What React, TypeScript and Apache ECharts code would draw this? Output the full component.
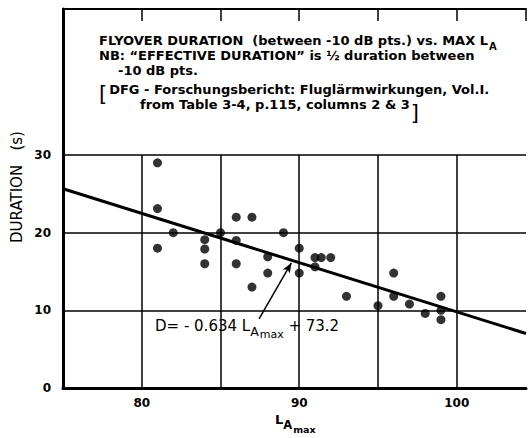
import React, { useEffect, useRef } from "react";
import * as echarts from "echarts";

// Data
const lamax = [81, 81, 81, 82, 84, 84, 84, 85, 86, 86, 86, 87, 87, 88, 88, 89, 90, 90, 91, 91.4, 92, 91, 93, 95, 96, 96, 97, 98, 99, 99, 99];
const duration = [29, 23.1, 18, 20, 19.1, 17.9, 16, 20, 22, 19, 16, 22, 13, 16.9, 14.8, 20, 18, 14.8, 16.8, 16.8, 16.8, 15.6, 11.8, 10.6, 14.8, 11.8, 10.8, 9.6, 11.8, 10, 8.8];
const fitSlope = -0.634;
const fitIntercept = 73.2;
const xTickLabels = [80, 90, 100];
const xGridValues = [80, 85, 90, 95, 100];
const yGridValues = [10, 20, 30];
const yTickLabels = [0, 10, 20, 30];
const arrowFrom = [87.45, 8.9];
const arrowTo = [89.5, 16.1];

const X_MIN = 75;
const X_MAX = 104.4;
const Y_MIN = 0;
const Y_MAX = 48.8;
const GRID_TOP = 30;

const FONT = '"DejaVu Sans", sans-serif';

export default function App() {
  const ref = useRef<HTMLDivElement>(null);
  useEffect(() => {
    if (!ref.current) return;
    const chart = echarts.init(ref.current, null, { renderer: "svg" });
    const points = lamax.map((x, i) => [x, duration[i]]);
    const fitLine = [X_MIN, X_MAX].map((x) => [x, fitSlope * x + fitIntercept]);
    const gridLines: any[] = [];
    yGridValues.forEach((y) => gridLines.push([{ coord: [X_MIN, y] }, { coord: [X_MAX, y] }]));
    xGridValues.forEach((x) => gridLines.push([{ coord: [x, Y_MIN] }, { coord: [x, GRID_TOP] }]));

    const txt = (fs: number, extra: any = {}) => ({ fontSize: fs, fontFamily: FONT, fill: "#000", color: "#000", ...extra });
    const T = 13;
    const tb = (extra: any = {}) => txt(T, { fontWeight: "bold", lineHeight: 15, verticalAlign: "top", ...extra });

    chart.setOption({
      animation: false,
      backgroundColor: "#fff",
      grid: { left: 63, right: 0, top: 9, bottom: 50 },
      xAxis: [
        {
          type: "value",
          min: X_MIN,
          max: X_MAX,
          interval: 5,
          position: "bottom",
          axisLine: { show: true, onZero: false, lineStyle: { color: "#000", width: 3 } },
          axisTick: { show: false },
          splitLine: { show: false },
          axisLabel: {
            margin: 9,
            fontFamily: FONT,
            fontWeight: "bold",
            fontSize: 12,
            color: "#000",
            formatter: (v: number) => (xTickLabels.includes(v) ? String(v) : ""),
          },
        },
        {
          type: "value",
          min: X_MIN,
          max: X_MAX,
          interval: 5,
          position: "top",
          axisLine: { show: true, onZero: false, lineStyle: { color: "#000", width: 2 } },
          axisTick: { show: true, inside: true, length: 12, lineStyle: { color: "#000", width: 1.5 } },
          splitLine: { show: false },
          axisLabel: { show: false },
        },
      ],
      yAxis: {
        type: "value",
        min: Y_MIN,
        max: Y_MAX,
        interval: 10,
        axisLine: { show: true, onZero: false, lineStyle: { color: "#000", width: 3 } },
        axisTick: { show: false },
        splitLine: { show: false },
        axisLabel: {
          margin: 12,
          fontFamily: FONT,
          fontWeight: "bold",
          fontSize: 12,
          color: "#000",
          formatter: (v: number) => (yTickLabels.includes(v) ? String(v) : ""),
        },
      },
      series: [
        {
          type: "scatter",
          xAxisIndex: 0,
          data: [],
          silent: true,
          markLine: {
            silent: true,
            symbol: ["none", "none"],
            label: { show: false },
            lineStyle: { color: "#000", width: 1.5, type: "solid" },
            data: gridLines,
          },
        },
        {
          type: "line",
          xAxisIndex: 0,
          data: fitLine,
          showSymbol: false,
          symbol: "none",
          lineStyle: { color: "#000", width: 3 },
          silent: true,
          markLine: {
            silent: true,
            symbol: ["none", "arrow"],
            symbolSize: [6, 10],
            label: { show: false },
            lineStyle: { color: "#000", width: 1.5, type: "solid" },
            data: [[{ coord: arrowFrom }, { coord: arrowTo }]],
          },
        },
        {
          type: "scatter",
          xAxisIndex: 0,
          data: points,
          symbol: "circle",
          symbolSize: 9,
          itemStyle: { color: "#000" },
          silent: true,
        },
      ],
      graphic: [
        {
          type: "text",
          x: 99,
          y: 34,
          style: {
            text: "{n|FLYOVER DURATION  (between -10 dB pts.) vs. MAX L}{s|A}",
            verticalAlign: "top",
            rich: {
              n: tb(),
              s: txt(10, { fontWeight: "bold", lineHeight: 11, verticalAlign: "top", padding: [7, 0, 0, 1] }),
            },
          },
        },
        {
          type: "text",
          x: 99,
          y: 49,
          style: {
            text: "{n|NB: \u201CEFFECTIVE DURATION\u201D is \u00BD duration between}",
            verticalAlign: "top",
            rich: { n: tb() },
          },
        },
        {
          type: "text",
          x: 118,
          y: 64,
          style: { text: "{n|-10 dB pts.}", verticalAlign: "top", rich: { n: tb() } },
        },
        {
          type: "text",
          x: 99,
          y: 83,
          style: {
            text: "{b|[}{n|DFG - Forschungsbericht: Fluglärmwirkungen, Vol.I.}",
            verticalAlign: "top",
            rich: {
              n: tb(),
              b: txt(21, { lineHeight: 15, verticalAlign: "top", padding: [0, 2, 0, 0] }),
            },
          },
        },
        {
          type: "text",
          x: 140,
          y: 98,
          style: {
            text: "{n|from Table 3-4, p.115, columns 2 & 3}{b|]}",
            verticalAlign: "top",
            rich: {
              n: tb(),
              b: txt(21, { lineHeight: 15, verticalAlign: "top", padding: [4, 0, 0, 1] }),
            },
          },
        },
        {
          type: "text",
          x: 155,
          y: 318,
          style: {
            text: "{n|D= - 0.634 L}{a|A}{m|max}{n| + 73.2}",
            verticalAlign: "top",
            rich: {
              n: txt(15, { lineHeight: 18, verticalAlign: "top" }),
              a: txt(12.5, { lineHeight: 14, verticalAlign: "top", padding: [7, 0, 0, 0] }),
              m: txt(11, { lineHeight: 12, verticalAlign: "top", padding: [11, 0, 0, 1] }),
            },
          },
        },
        {
          type: "text",
          x: 275,
          y: 413,
          style: {
            text: "{l|L}{a|A}{m|max}",
            verticalAlign: "top",
            rich: {
              l: txt(13, { lineHeight: 15, verticalAlign: "top", fontWeight: "bold" }),
              a: txt(11.5, { lineHeight: 13, verticalAlign: "top", padding: [6, 0, 0, 0], fontWeight: "bold" }),
              m: txt(9.5, { lineHeight: 11, verticalAlign: "top", padding: [11, 0, 0, 1], fontWeight: "bold" }),
            },
          },
        },
        {
          type: "text",
          x: 17,
          y: 187,
          rotation: Math.PI / 2,
          style: {
            text: "DURATION   (s)",
            ...txt(15),
            align: "center",
            verticalAlign: "middle",
          },
        },
      ],
    });
    return () => chart.dispose();
  }, []);
  return (
    <div
      ref={ref}
      style={{ position: "absolute", left: 0, top: 0, width: 529, height: 438, background: "#fff" }}
    />
  );
}
